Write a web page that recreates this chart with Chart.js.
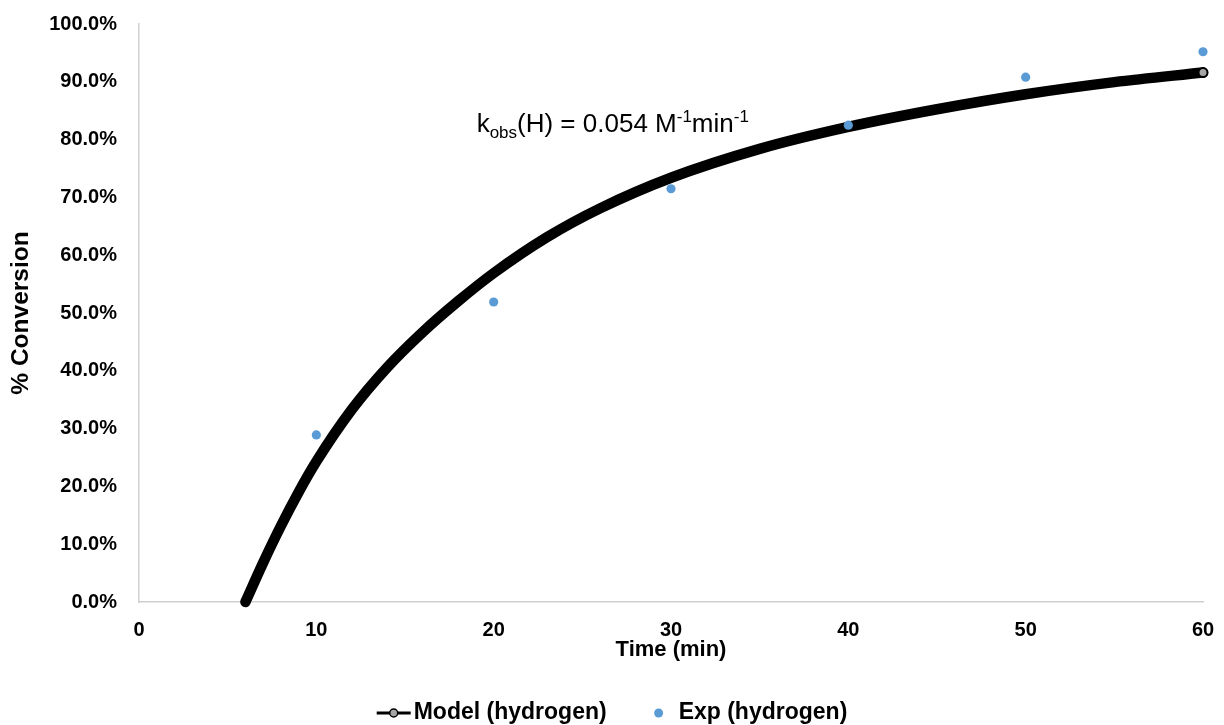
<!DOCTYPE html>
<html>
<head>
<meta charset="utf-8">
<script src="https://cdn.jsdelivr.net/npm/chart.js@4"></script>
<style>
html,body{margin:0;padding:0;background:#fff;}
#wrap{width:1224px;height:725px;position:relative;}
</style>
</head>
<body>
<div id="wrap"><canvas id="c"></canvas></div>
<script>
// ---- data ----
const modelTime = [6, 7, 8, 9, 10, 12, 14, 16, 18, 20, 23, 26, 30, 35, 40, 45, 50, 55, 60];
const modelConv = [0, 6.8, 13.15, 19.0, 24.3, 33.3, 40.6, 46.7, 52.05, 56.9, 63.1, 68.1, 73.4, 78.4, 82.2, 85.25, 87.85, 89.95, 91.6];
const expTime = [10, 20, 30, 40, 50, 60];
const expConv = [28.9, 51.9, 71.5, 82.5, 90.8, 95.2];
const xTicks = [0, 10, 20, 30, 40, 50, 60];
const yTicks = [0, 10, 20, 30, 40, 50, 60, 70, 80, 90, 100];
const seriesNames = ['Model (hydrogen)', 'Exp (hydrogen)'];
const annotation = {x: 19.04, y: 81.4};

const FONT = "'Liberation Sans', Arial, Helvetica, sans-serif";
const expColor = '#5B9BD5';

const modelData = modelTime.map((t, i) => ({x: t, y: modelConv[i]}));
const expData = expTime.map((t, i) => ({x: t, y: expConv[i]}));

const annotationPlugin = {
  id: 'kobs',
  afterDatasetsDraw(chart) {
    const {ctx, scales} = chart;
    let x = scales.x.getPixelForValue(annotation.x);
    const y = scales.y.getPixelForValue(annotation.y);
    const main = '26px ' + FONT, small = '17px ' + FONT;
    const parts = [
      ['k', main, 0], ['obs', small, 6], ['(H) = 0.054 M', main, 0],
      ['-1', small, -10], ['min', main, 0], ['-1', small, -10]
    ];
    ctx.save();
    ctx.fillStyle = '#000';
    ctx.textBaseline = 'alphabetic';
    ctx.textAlign = 'left';
    for (const [t, f, dy] of parts) {
      ctx.font = f;
      ctx.fillText(t, x, y + dy);
      x += ctx.measureText(t).width;
    }
    ctx.restore();
  }
};

const legendPlugin = {
  id: 'customLegend',
  afterDraw(chart) {
    const ctx = chart.ctx;
    ctx.save();
    ctx.font = 'bold 23px ' + FONT;
    const w1 = ctx.measureText(seriesNames[0]).width;
    const w2 = ctx.measureText(seriesNames[1]).width;
    const total = 37 + w1 + 52 + 20 + w2;
    let x = chart.width / 2 - total / 2;
    const y = 713;
    // model symbol
    ctx.strokeStyle = '#000';
    ctx.lineWidth = 3;
    ctx.beginPath(); ctx.moveTo(x, y); ctx.lineTo(x + 34, y); ctx.stroke();
    ctx.beginPath(); ctx.arc(x + 17, y, 4, 0, Math.PI * 2);
    ctx.fillStyle = '#a6a6a6'; ctx.fill();
    ctx.lineWidth = 1.5; ctx.stroke();
    ctx.fillStyle = '#000';
    ctx.textBaseline = 'middle';
    ctx.textAlign = 'left';
    ctx.fillText(seriesNames[0], x + 37, y);
    x += 37 + w1 + 52;
    ctx.beginPath(); ctx.arc(x, y, 4.5, 0, Math.PI * 2);
    ctx.fillStyle = expColor; ctx.fill();
    ctx.fillStyle = '#000';
    ctx.fillText(seriesNames[1], x + 20, y);
    ctx.restore();
  }
};

new Chart(document.getElementById('c'), {
  type: 'scatter',
  data: {
    datasets: [
      {
        label: seriesNames[0],
        type: 'line',
        data: modelData,
        borderColor: '#000',
        borderWidth: 10.5,
        borderCapStyle: 'round',
        borderJoinStyle: 'round',
        cubicInterpolationMode: 'monotone',
        fill: false,
        clip: false,
        pointRadius: (c) => c.dataIndex === modelData.length - 1 ? 4.5 : 0,
        pointHoverRadius: 0,
        pointBackgroundColor: '#a6a6a6',
        pointBorderColor: '#000',
        pointBorderWidth: 2,
        order: 2
      },
      {
        label: seriesNames[1],
        data: expData,
        backgroundColor: expColor,
        borderColor: expColor,
        borderWidth: 0,
        pointRadius: 4.6,
        clip: false,
        order: 1
      }
    ]
  },
  options: {
    responsive: true,
    maintainAspectRatio: false,
    animation: false,
    layout: {autoPadding: false, padding: {top: 24, right: 21, bottom: 59, left: 0}},
    plugins: {legend: {display: false}, tooltip: {enabled: false}},
    scales: {
      x: {
        type: 'linear', min: 0, max: 60,
        afterBuildTicks: (s) => { s.ticks = xTicks.map(v => ({value: v})); },
        afterFit: (s) => { s.height = 64; s.paddingLeft = 0; s.paddingRight = 0; },
        grid: {display: false, drawTicks: false},
        border: {display: true, color: '#d0d0d0', width: 1.5},
        ticks: {padding: 16, color: '#000', font: {family: FONT, size: 20, weight: 'bold'}},
        title: {display: true, text: 'Time (min)', color: '#000', padding: {top: 0, bottom: 3},
                font: {family: FONT, size: 22, weight: 'bold'}}
      },
      y: {
        type: 'linear', min: 0, max: 100,
        afterBuildTicks: (s) => { s.ticks = yTicks.map(v => ({value: v})); },
        afterFit: (s) => { s.width = 139; s.paddingTop = 0; s.paddingBottom = 0; },
        grid: {display: false, drawTicks: false},
        border: {display: true, color: '#d0d0d0', width: 1.5},
        ticks: {padding: 22, color: '#000', font: {family: FONT, size: 20, weight: 'bold'},
                callback: (v) => v.toFixed(1) + '%'},
        title: {display: true, text: '% Conversion', color: '#000', padding: {top: 7, bottom: 0},
                font: {family: FONT, size: 24.5, weight: 'bold'}}
      }
    }
  },
  plugins: [annotationPlugin, legendPlugin]
});
</script>
</body>
</html>
